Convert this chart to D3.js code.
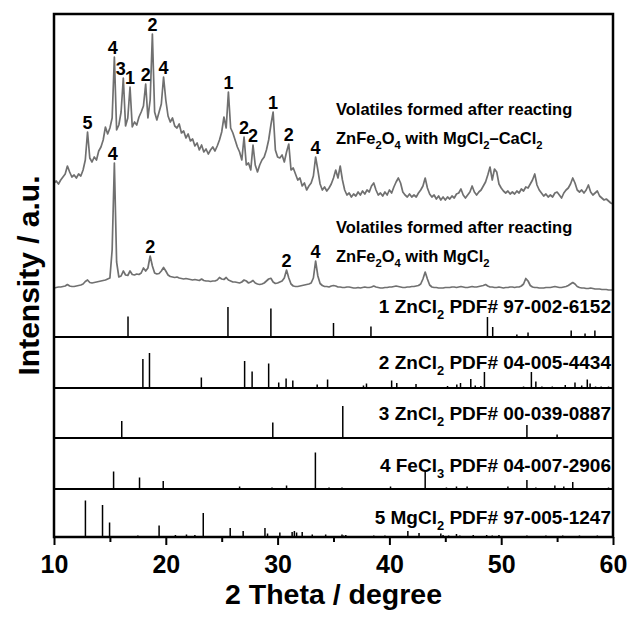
<!DOCTYPE html>
<html>
<head>
<meta charset="utf-8">
<script src="https://cdn.jsdelivr.net/npm/d3@7"></script>
<style>
  body { margin: 0; background: #fff; }
  text { font-family: "Liberation Sans", Arial, Helvetica, sans-serif; font-weight: bold; fill: #000; }
</style>
</head>
<body>
<svg id="chart" width="630" height="620"></svg>
<script>
// ---- measured patterns, sampled every 0.2 degree from 10 to 60 (2θ) ----
const scanStart = 10, scanStep = 0.2;

// volatiles from ZnFe2O4 + MgCl2–CaCl2 (a.u., before stacking offset)
const mgcaVolatiles = [
  27, 29, 26, 30, 33,   36, 44, 38, 33, 35,   32, 36, 34, 40, 50,   78, 52, 48, 53, 50,
  59, 63, 70, 83, 76,   82, 92, 153, 80, 85,  98, 132, 84, 92, 123, 83, 88, 85, 93, 98,
  104, 126, 92, 110, 176, 98, 90, 98, 106, 133, 110, 94, 88, 92, 84, 82, 86, 77, 79, 72,
  76, 69, 71, 64, 67,   60, 65, 58, 61, 56,   60, 63, 59, 64, 70,   78, 93, 82, 118, 82,
  77, 70, 63, 58, 50,   73, 45, 47, 40, 65,   45, 38, 45, 50, 53,   60, 70, 85, 98, 60,
  53, 52, 55, 48, 58,   66, 40, 42, 36, 30,   32, 24, 27, 20, 24,   27, 34, 53, 40, 26,
  20, 23, 19, 22, 26,   32, 40, 32, 44, 30,   20, 15, 17, 13, 16,   14, 18, 15, 19, 16,
  20, 18, 24, 27, 20,   15, 17, 14, 18, 15,   20, 17, 23, 28, 32,   27, 18, 15, 13, 16,
  13, 15, 13, 17, 20,   24, 32, 22, 16, 13,   15, 11, 14, 10, 13,   10, 13, 11, 14, 12,
  16, 17, 21, 15, 12,   15, 18, 24, 18, 15,   18, 20, 24, 28, 35,   43, 30, 41, 38, 26,
  22, 19, 17, 19, 16,   18, 16, 19, 17, 21,   19, 23, 22, 26, 30,   36, 25, 20, 17, 14,
  16, 13, 15, 13, 17,   18, 15, 12, 17, 20,   22, 26, 32, 27, 20,   18, 20, 17, 20, 25,
  18, 15, 17, 19, 14,   12, 10, 11, 9, 7,     6
];

// volatiles from ZnFe2O4 + MgCl2 (a.u.)
const mgVolatiles = [
  2, 2.5, 3, 3, 3.5,    4, 5.5, 4, 3.5, 3.5,  4, 4.5, 5, 6, 8.5,    10, 7.5, 7, 7.5, 8,
  8.5, 9, 9.5, 10, 11,  12, 40, 127, 28, 13,  14, 19, 15, 14.5, 19, 15.5, 15, 16, 15.5, 17,
  22, 19, 22, 34, 24,   17, 16, 16.5, 19, 22.5, 19, 15, 13.5, 13, 12.5, 13, 12, 11.5, 11, 11.5,
  11, 10.5, 10, 10.5, 10, 9.5, 11, 9.5, 9, 9, 8.5, 9, 9, 10, 12.5,  11, 10.5, 12.5, 10, 9,
  8, 8, 7.5, 7, 8,      10, 9, 7, 8, 9.5,     7, 6, 5.5, 6, 7,      9, 11, 11.7, 8, 6.5,
  7, 8, 9, 12, 20,      12, 6, 4, 3.5, 3.5,   4, 4.5, 5, 5.5, 6,    7, 12, 29, 14, 6.5,
  4.5, 3.5, 3.5, 3, 4,  4.5, 4, 3, 3, 2.5,    2.5, 3, 3, 2.5, 2,    2, 2.5, 2, 2.5, 3,
  2.5, 2.5, 3, 4, 3,    2.5, 2, 2, 2.5, 2.5,  3, 3, 3.5, 4, 3.5,    3, 2.5, 2.5, 3, 3,
  3.5, 3.5, 4, 4.5, 6,  11, 18, 11, 5, 3,     2.5, 2.5, 2, 2, 2,    2.5, 2.5, 2.5, 3, 3,
  2.5, 3, 3.5, 3, 2.5,  2.5, 3, 3.5, 3, 3,    3.5, 4, 4.5, 5.5, 4,  3, 3, 2.5, 2.5, 3,
  2.5, 2, 2.5, 2.5, 3,  3, 2.5, 3, 3, 4,      6, 11.5, 9, 4.5, 3,   2.5, 2.5, 2, 2, 2,
  2.5, 2.5, 2.5, 3, 3.5, 3, 2.5, 2.5, 3, 3.5, 4.5, 6, 7.5, 6, 3.5,  2.5, 2, 2, 1.5, 1.5,
  2, 1.5, 1, 1, 1,      0.5, 0.5, 0.5, 0, 0,  0
];

// vertical shift of the upper pattern in the stack
const mgcaOffset = 80;

// phase numbers assigned to reflections [phase, 2θ]
const mgcaPeakLabels = [
  ["5", 13.0], ["4", 15.4], ["3", 16.2], ["1", 16.8], ["2", 18.2], ["2", 18.8], ["4", 19.8],
  ["1", 25.6], ["2", 27.0], ["2", 27.8], ["1", 29.6], ["2", 31.0], ["4", 33.4]
];
const mgPeakLabels = [["4", 15.4], ["2", 18.6], ["2", 30.8], ["4", 33.4]];

// reference cards [2θ, relative intensity %]
const zncl2Card1 = [
  [16.62, 41], [25.56, 60], [29.40, 57], [33.7, 2], [34.3, 2], [35.0, 28], [38.35, 21],
  [48.77, 40], [49.24, 20], [51.4, 5], [52.4, 9], [56.26, 13], [57.5, 7], [58.38, 13]
];
const zncl2Card2 = [
  [17.95, 58], [18.54, 70], [23.18, 21], [27.05, 54], [27.72, 33], [29.2, 49], [30.1, 11],
  [30.76, 19], [31.36, 15], [33.54, 7], [34.47, 17], [37.68, 5], [37.95, 9], [39.4, 2],
  [40.2, 15], [40.66, 10], [42.38, 8], [45.2, 4], [46.03, 7], [46.36, 10], [47.28, 18],
  [47.68, 5], [48.18, 4], [48.5, 32], [51.0, 2], [52.0, 3], [52.7, 32], [53.1, 13],
  [53.64, 3], [54.57, 3], [55.73, 6], [56.6, 11], [57.2, 5], [57.7, 17], [57.95, 9],
  [58.44, 3], [58.94, 3], [59.6, 3]
];
const zncl2Card3 = [[16.06, 34], [29.57, 31], [35.83, 64], [52.3, 26], [55.0, 7]];
const fecl3Card = [
  [15.33, 35], [17.65, 23], [19.77, 16], [26.6, 5], [29.5, 3], [30.8, 7], [33.38, 73],
  [34.6, 3], [35.76, 3], [40.1, 5], [43.2, 37], [45.1, 3], [46.0, 5], [46.95, 5], [50.6, 5],
  [52.3, 18], [53.1, 3], [54.8, 7], [55.6, 5], [56.4, 14], [59.6, 3]
];
const mgcl2Card = [
  [12.81, 73], [14.34, 64], [14.97, 29], [17.5, 3], [19.4, 23], [20.86, 4], [21.85, 5],
  [22.6, 4], [23.35, 48], [25.76, 18], [26.92, 12], [28.87, 18], [29.1, 7], [30.2, 9],
  [31.3, 10], [31.5, 12], [31.7, 9], [32.2, 10], [33.1, 5], [34.3, 5], [35.76, 5], [35.9, 3],
  [36.1, 4], [36.3, 2], [37.2, 2], [38.6, 3], [39.6, 3], [40.3, 2], [41.65, 12], [42.65, 8],
  [44.6, 7], [44.8, 4], [45.3, 3], [46.0, 6], [46.3, 3], [47.0, 2], [47.5, 4], [48.0, 2],
  [48.7, 4], [49.2, 3], [49.8, 4], [50.5, 2], [51.2, 2], [52.3, 3], [53.0, 2], [54.0, 3],
  [55.5, 3], [56.3, 2], [57.0, 3], [58.6, 3], [59.0, 2], [59.7, 2]
];

const cardNames = [
  "1 ZnCl_2 PDF# 97-002-6152",
  "2 ZnCl_2 PDF# 04-005-4434",
  "3 ZnCl_2 PDF# 00-039-0887",
  "4 FeCl_3 PDF# 04-007-2906",
  "5 MgCl_2 PDF# 97-005-1247"
];
const cards = [zncl2Card1, zncl2Card2, zncl2Card3, fecl3Card, mgcl2Card];

const xMajorTicks = [10, 20, 30, 40, 50, 60];
const xMinorTicks = [15, 25, 35, 45, 55];

// ---- layout ----
const svg = d3.select("#chart");
const plotLeft = 54, plotRight = 613, plotTop = 14, plotBottom = 537;
const patternBase = 290;
const cardBottoms = [337, 388, 438, 489, 537];
const cardHeight = 50;
const cardLabelLift = [24, 19, 18, 17, 13];

const x = d3.scaleLinear().domain([10, 60]).range([plotLeft, plotRight]);
const yPattern = d3.scaleLinear().domain([0, 277]).range([patternBase, plotTop - 1]);

// text with "_n" subscripts
function rich(sel, str, size) {
  const parts = str.split(/(_\d)/).filter(s => s.length);
  let low = false;
  parts.forEach(p => {
    const isSub = p[0] === "_";
    const t = sel.append("tspan").text(isSub ? p.slice(1) : p);
    if (isSub) {
      t.attr("font-size", size * 0.68);
      if (!low) t.attr("dy", size * 0.32);
      low = true;
    } else {
      if (low) t.attr("dy", -size * 0.32);
      low = false;
    }
  });
}

// ---- patterns ----
const twoTheta = i => scanStart + i * scanStep;
function drawPattern(values, offset) {
  const line = d3.line()
    .x((d, i) => x(twoTheta(i)))
    .y(d => yPattern(d + offset));
  svg.append("path")
    .datum(values)
    .attr("d", line)
    .attr("fill", "none")
    .attr("stroke", "#707070")
    .attr("stroke-width", 1.7)
    .attr("stroke-linejoin", "round");
}
drawPattern(mgcaVolatiles, mgcaOffset);
drawPattern(mgVolatiles, 0);

const labelNudge = { "3@16.2": -2.5, "4@15.4": -1.5 };
function drawPeakLabels(labels, values, offset) {
  labels.forEach(([phase, t]) => {
    const i = Math.round((t - scanStart) / scanStep);
    const v = d3.max(values.slice(Math.max(0, i - 1), i + 2));
    svg.append("text")
      .attr("x", x(t) + (labelNudge[phase + "@" + t] || 0))
      .attr("y", yPattern(v + offset) - 3)
      .attr("text-anchor", "middle")
      .attr("font-size", 18)
      .text(phase);
  });
}
drawPeakLabels(mgcaPeakLabels, mgcaVolatiles, mgcaOffset);
drawPeakLabels(mgPeakLabels, mgVolatiles, 0);

// sample descriptions
const notes = [
  { y: 115, s: "Volatiles formed after reacting" },
  { y: 144, s: "ZnFe_2O_4 with MgCl_2–CaCl_2" },
  { y: 233, s: "Volatiles formed after reacting" },
  { y: 262, s: "ZnFe_2O_4 with MgCl_2" }
];
notes.forEach(n => {
  const t = svg.append("text").attr("x", 336).attr("y", n.y).attr("font-size", 16.5);
  rich(t, n.s, 16.5);
});

// ---- reference cards ----
cards.forEach((card, k) => {
  const yb = cardBottoms[k];
  const yc = d3.scaleLinear().domain([0, 100]).range([yb, yb - cardHeight]);
  svg.append("g").selectAll("line")
    .data(card)
    .join("line")
    .attr("x1", d => x(d[0])).attr("x2", d => x(d[0]))
    .attr("y1", yc(0)).attr("y2", d => yc(d[1]))
    .attr("stroke", "#000")
    .attr("stroke-width", 1.5);
  const t = svg.append("text")
    .attr("x", plotRight - 2)
    .attr("y", yb - cardLabelLift[k])
    .attr("text-anchor", "end")
    .attr("font-size", 19);
  rich(t, cardNames[k], 19);
  if (k < cards.length - 1) {
    svg.append("line")
      .attr("x1", plotLeft).attr("x2", plotRight)
      .attr("y1", yb).attr("y2", yb)
      .attr("stroke", "#000").attr("stroke-width", 2);
  }
});

// ---- frame and axis ----
svg.append("rect")
  .attr("x", plotLeft).attr("y", plotTop)
  .attr("width", plotRight - plotLeft).attr("height", plotBottom - plotTop)
  .attr("fill", "none").attr("stroke", "#000").attr("stroke-width", 2.5);

const minorAxis = svg.append("g")
  .attr("transform", `translate(0,${plotBottom})`)
  .call(d3.axisBottom(x).tickValues(xMinorTicks).tickSize(5).tickFormat(""));
minorAxis.select(".domain").remove();
minorAxis.selectAll("line").attr("stroke-width", 2);

const majorAxis = svg.append("g")
  .attr("transform", `translate(0,${plotBottom})`)
  .call(d3.axisBottom(x).tickValues(xMajorTicks).tickSize(8).tickPadding(10).tickFormat(d3.format("d")));
majorAxis.select(".domain").remove();
majorAxis.selectAll("line").attr("stroke-width", 2);
majorAxis.selectAll("text")
  .attr("font-size", 25)
  .attr("font-family", "'Liberation Sans', Arial, sans-serif")
  .attr("font-weight", "bold")
  .attr("fill", "#000");

svg.append("text")
  .attr("x", (plotLeft + plotRight) / 2)
  .attr("y", 604)
  .attr("text-anchor", "middle")
  .attr("font-size", 28.5)
  .text("2 Theta / degree");

svg.append("text")
  .attr("transform", `translate(39,${(plotTop + plotBottom) / 2}) rotate(-90)`)
  .attr("text-anchor", "middle")
  .attr("font-size", 30)
  .text("Intensity / a.u.");
</script>
</body>
</html>
